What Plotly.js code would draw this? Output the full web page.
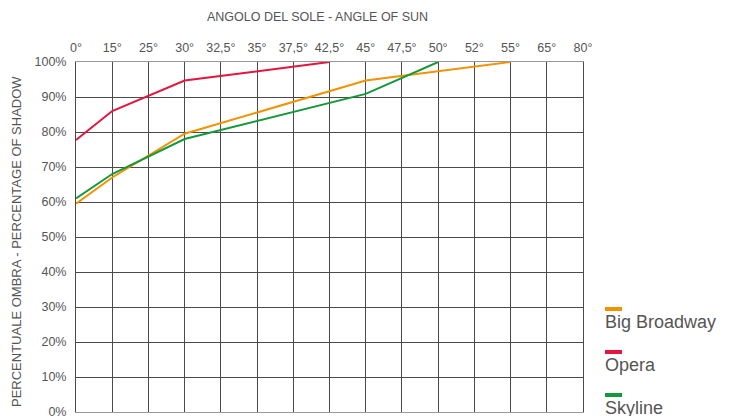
<!DOCTYPE html>
<html>
<head>
<meta charset="utf-8">
<script src="https://cdn.plot.ly/plotly-3.0.1.min.js"></script>
<style>html,body{margin:0;padding:0;background:#fff;}#chart{width:736px;height:416px;}</style>
</head>
<body>
<div id="chart"></div>
<script>
// Categories (angle of sun)
const angles = ['0°','15°','25°','30°','32,5°','35°','37,5°','42,5°','45°','47,5°','50°','52°','55°','65°','80°'];

// Series
const seriesNames = ['Big Broadway','Opera','Skyline'];
const seriesColors = ['#f39200','#e3163e','#13993b'];

const bigBroadwayX = ['0°','15°','30°','45°','55°'];
const bigBroadwayY = [59.5, 67, 79.5, 94.7, 100];

const operaX = ['0°','15°','30°','42,5°'];
const operaY = [77.7, 86, 94.7, 100];

const skylineX = ['0°','15°','30°','45°','50°'];
const skylineY = [61, 68, 78, 90.9, 100];

const yTicks = [0,10,20,30,40,50,60,70,80,90,100];

const xTitle = 'ANGOLO DEL SOLE - ANGLE OF SUN';
const yTitle = 'PERCENTUALE OMBRA - PERCENTAGE OF SHADOW';

const xs = [bigBroadwayX, operaX, skylineX];
const ys = [bigBroadwayY, operaY, skylineY];

const traces = seriesNames.map((n,i)=>({
  type:'scatter', mode:'lines', name:n,
  x: xs[i], y: ys[i],
  line:{color:seriesColors[i], width:2},
  showlegend:false, hoverinfo:'skip'
}));

const font = 'Liberation Sans, Arial, sans-serif';
const txt = '#555';

const shapes = [];
const annotations = [];
const plotTop = 62, plotBot = 412, plotL = 76, plotR = 583;
const py = p => (plotBot - p) / (plotBot - plotTop);
const px = p => (p - plotL) / (plotR - plotL);

// Axis titles
annotations.push({xref:'paper', yref:'paper', x:px(317), y:py(17), xanchor:'center', yanchor:'middle',
  text:xTitle, showarrow:false, font:{family:font, size:12.5, color:txt}});
annotations.push({xref:'paper', yref:'paper', x:px(17), y:py(242), xanchor:'center', yanchor:'middle',
  textangle:-90, text:yTitle, showarrow:false, font:{family:font, size:13, color:txt}});

// Custom legend (swatch above label)
const swatchY = [309, 352, 395];
seriesNames.forEach((n,i)=>{
  shapes.push({type:'line', xref:'paper', yref:'paper',
    x0:px(605), x1:px(622), y0:py(swatchY[i]), y1:py(swatchY[i]),
    line:{color:seriesColors[i], width:4}});
  annotations.push({xref:'paper', yref:'paper', x:px(603), y:py(swatchY[i]+13),
    xanchor:'left', yanchor:'middle', text:n, showarrow:false,
    font:{family:font, size:18, color:txt}});
});

const layout = {
  width:736, height:416,
  margin:{l:76, r:153, t:62, b:4},
  paper_bgcolor:'#fff', plot_bgcolor:'#fff',
  font:{family:font, size:12, color:txt},
  xaxis:{
    type:'category', categoryorder:'array', categoryarray:angles,
    tickvals:angles, ticktext:angles,
    range:[0, angles.length-1], side:'top',
    showgrid:true, gridcolor:'#4a4a4a', gridwidth:1,
    showline:true, linecolor:'#999', mirror:true, linewidth:1,
    ticks:'outside', ticklen:4, tickcolor:'rgba(0,0,0,0)', zeroline:false,
    tickfont:{family:font, size:12.5, color:txt}
  },
  yaxis:{
    range:[0,100], tickvals:yTicks, ticktext:yTicks.map(v=>v+'%'),
    showgrid:true, gridcolor:'#4a4a4a', gridwidth:1,
    showline:true, linecolor:'#4a4a4a', mirror:true, linewidth:1,
    ticks:'outside', ticklen:6, tickcolor:'rgba(0,0,0,0)', zeroline:false,
    ticklabeloverflow:'allow',
    tickfont:{family:font, size:12.5, color:txt}
  },
  shapes: shapes,
  annotations: annotations
};

Plotly.newPlot('chart', traces, layout, {displayModeBar:false, staticPlot:true});
</script>
</body>
</html>
